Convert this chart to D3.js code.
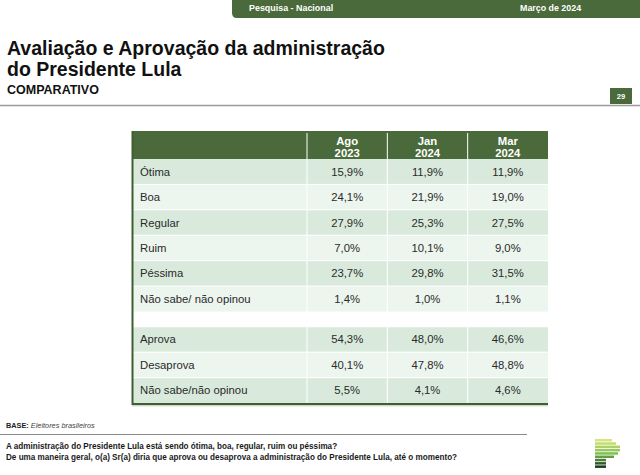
<!DOCTYPE html>
<html><head><meta charset="utf-8">
<script src="https://cdn.jsdelivr.net/npm/d3@7"></script>
<style>
html,body{margin:0;padding:0;background:#fff;}
svg{display:block;font-family:"Liberation Sans",Arial,sans-serif;}
</style></head>
<body>
<svg id="c" width="640" height="475"></svg>
<script>
// ---- data ----
const evalCategories = ["Ótima", "Boa", "Regular", "Ruim", "Péssima", "Não sabe/ não opinou"];
const approvalCategories = ["Aprova", "Desaprova", "Não sabe/não opinou"];
const periods = ["Ago 2023", "Jan 2024", "Mar 2024"];
const ago2023 = [15.9, 24.1, 27.9, 7.0, 23.7, 1.4, 54.3, 40.1, 5.5];
const jan2024 = [11.9, 21.9, 25.3, 10.1, 29.8, 1.0, 48.0, 47.8, 4.1];
const mar2024 = [11.9, 19.0, 27.5, 9.0, 31.5, 1.1, 46.6, 48.8, 4.6];

const titleLines = ["Avaliação e Aprovação da administração", "do Presidente Lula"];
const subtitle = "COMPARATIVO";
const bannerLeft = "Pesquisa - Nacional";
const bannerRight = "Março de 2024";
const pageNumber = "29";
const baseLabel = "BASE:";
const baseText = "Eleitores brasileiros";
const questions = [
  "A administração do Presidente Lula está sendo ótima, boa, regular, ruim ou péssima?",
  "De uma maneira geral, o(a) Sr(a) diria que aprova ou desaprova a administração do Presidente Lula, até o momento?"
];

// ---- build ----
const GREEN = "#4a6a3b";
const svg = d3.select("#c");
const locale = d3.formatLocale({decimal: ",", thousands: ".", grouping: [3], currency: ["R$", ""]});
const fmt = v => locale.format(".1f")(v) + "%";

function fit(sel, target) {
  const n = sel.node();
  const w = n.getComputedTextLength();
  const fs = parseFloat(sel.attr("font-size"));
  sel.attr("font-size", (fs * target / w).toFixed(2));
  return sel;
}

// top banner with rounded bottom-left corner
const bx0 = 232, bx1 = 640, by1 = 18, r = 5;
svg.append("path")
  .attr("d", `M${bx0},0 H${bx1} V${by1} H${bx0 + r} Q${bx0},${by1} ${bx0},${by1 - r} Z`)
  .attr("fill", GREEN);
fit(svg.append("text").attr("x", 249).attr("y", 10.5).attr("font-size", 8.9)
  .attr("font-weight", "bold").attr("fill", "#fff").text(bannerLeft), 84);
fit(svg.append("text").attr("x", 520).attr("y", 10.5).attr("font-size", 8.9)
  .attr("font-weight", "bold").attr("fill", "#fff").text(bannerRight), 61);

// titles
titleLines.forEach((t, i) => {
  svg.append("text").attr("x", 7).attr("y", 55 + i * 21).attr("font-size", 19.5)
    .attr("font-weight", "bold").attr("fill", "#111").text(t);
});
fit(svg.append("text").attr("x", 7).attr("y", 94).attr("font-size", 12)
  .attr("font-weight", "bold").attr("fill", "#111").text(subtitle), 92);

// page number box + divider
svg.append("rect").attr("x", 610).attr("y", 88).attr("width", 22).attr("height", 16).attr("fill", GREEN);
svg.append("text").attr("x", 621).attr("y", 99).attr("text-anchor", "middle").attr("font-size", 7.5)
  .attr("font-weight", "bold").attr("fill", "#fff").text(pageNumber);
svg.append("line").attr("x1", 0).attr("x2", 640).attr("y1", 105.5).attr("y2", 105.5)
  .attr("stroke", "#9a9a9a").attr("stroke-width", 1.5);

// ---- table ----
const tableLeft = 132, labelRight = 307, tableRight = 548;
const headerTop = 131, bodyTop = 159, bodyBottom = 403;
const x = d3.scaleBand().domain(periods).range([labelRight, tableRight]);
const gap = 0.6;
const nEval = evalCategories.length, nApp = approvalCategories.length;
const y = d3.scaleLinear().domain([0, nEval + gap + nApp]).range([bodyTop, bodyBottom]);

const rows = [];
evalCategories.forEach((c, i) => rows.push({label: c, slot: i, alt: i % 2, idx: i}));
approvalCategories.forEach((c, i) => rows.push({label: c, slot: nEval + gap + i, alt: i % 2, idx: nEval + i}));
const series = [ago2023, jan2024, mar2024];

const T = svg.append("g");
// header
T.append("rect").attr("x", tableLeft).attr("y", headerTop).attr("width", tableRight - tableLeft)
  .attr("height", bodyTop - headerTop).attr("fill", GREEN);
periods.forEach(p => {
  const [a, b] = p.split(" ");
  const cx = x(p) + x.bandwidth() / 2;
  T.append("text").attr("x", cx).attr("y", 144.5).attr("text-anchor", "middle").attr("font-size", 11.3)
    .attr("font-weight", "bold").attr("fill", "#fff").text(a);
  T.append("text").attr("x", cx).attr("y", 157).attr("text-anchor", "middle").attr("font-size", 11.3)
    .attr("font-weight", "bold").attr("fill", "#fff").text(b);
});

// body rows
const rowH = y(1) - y(0);
const rg = T.selectAll("g.row").data(rows).join("g").attr("class", "row")
  .attr("transform", d => `translate(0,${y(d.slot)})`);
rg.append("rect").attr("x", tableLeft).attr("width", tableRight - tableLeft).attr("height", rowH)
  .attr("fill", d => d.alt ? "#edf5ef" : "#d9eadd");
rg.append("text").attr("x", 140).attr("y", rowH / 2 + 4).attr("font-size", 11.3).attr("fill", "#2a2a2a")
  .text(d => d.label);
periods.forEach((p, j) => {
  rg.append("text").attr("x", x(p) + x.bandwidth() / 2).attr("y", rowH / 2 + 4)
    .attr("text-anchor", "middle").attr("font-size", 11.3).attr("fill", "#2a2a2a")
    .text(d => fmt(series[j][d.idx]));
});
// horizontal white separators
rg.filter((d, i) => i > 0).append("line").attr("x1", tableLeft).attr("x2", tableRight)
  .attr("y1", 0).attr("y2", 0).attr("stroke", "#fff").attr("stroke-width", 1);

// vertical separators
[labelRight, ...periods.slice(1).map(p => x(p))].forEach(vx => {
  T.append("line").attr("x1", vx).attr("x2", vx).attr("y1", headerTop + 2).attr("y2", bodyBottom)
    .attr("stroke", "#fff").attr("stroke-width", 1);
});
// table borders (left + bottom dark edge)
T.append("line").attr("x1", tableLeft + 0.5).attr("x2", tableLeft + 0.5).attr("y1", headerTop).attr("y2", bodyBottom + 2)
  .attr("stroke", "#3f5e33").attr("stroke-width", 2);
T.append("line").attr("x1", tableLeft).attr("x2", tableRight).attr("y1", bodyBottom + 1).attr("y2", bodyBottom + 1)
  .attr("stroke", "#3f5e33").attr("stroke-width", 2);
T.append("line").attr("x1", tableLeft).attr("x2", tableRight).attr("y1", bodyBottom + 2.8).attr("y2", bodyBottom + 2.8)
  .attr("stroke", "#b9c9b5").attr("stroke-width", 1);

// ---- footer ----
const base = svg.append("text").attr("x", 6).attr("y", 428).attr("font-size", 7).attr("fill", "#222");
base.append("tspan").attr("font-weight", "bold").text(baseLabel + " ");
base.append("tspan").attr("font-style", "italic").attr("fill", "#444").text(baseText);
fit(base, 89);
svg.append("line").attr("x1", 0).attr("x2", 527).attr("y1", 434.5).attr("y2", 434.5)
  .attr("stroke", "#8a8a8a").attr("stroke-width", 1);
const q1 = fit(svg.append("text").attr("x", 6).attr("y", 448.5).attr("font-size", 7.6).attr("font-weight", "bold")
  .attr("fill", "#1a1a1a").text(questions[0]), 331);
svg.append("text").attr("x", 6).attr("y", 459.5).attr("font-size", q1.attr("font-size")).attr("font-weight", "bold")
  .attr("fill", "#1a1a1a").text(questions[1]);

// logo (decorative stripes)
const logoW = [17, 21, 25, 25, 23, 19, 11, 11, 11];
const logoC = d3.scaleLinear().domain([0, 4, 8]).range(["#d9e57a", "#7fbf4e", "#163a1c"]);
logoW.forEach((w, i) => {
  svg.append("rect").attr("x", 595).attr("y", 439 + i * 3.3).attr("width", w).attr("height", 2.5)
    .attr("fill", logoC(i));
});
</script>
</body></html>
